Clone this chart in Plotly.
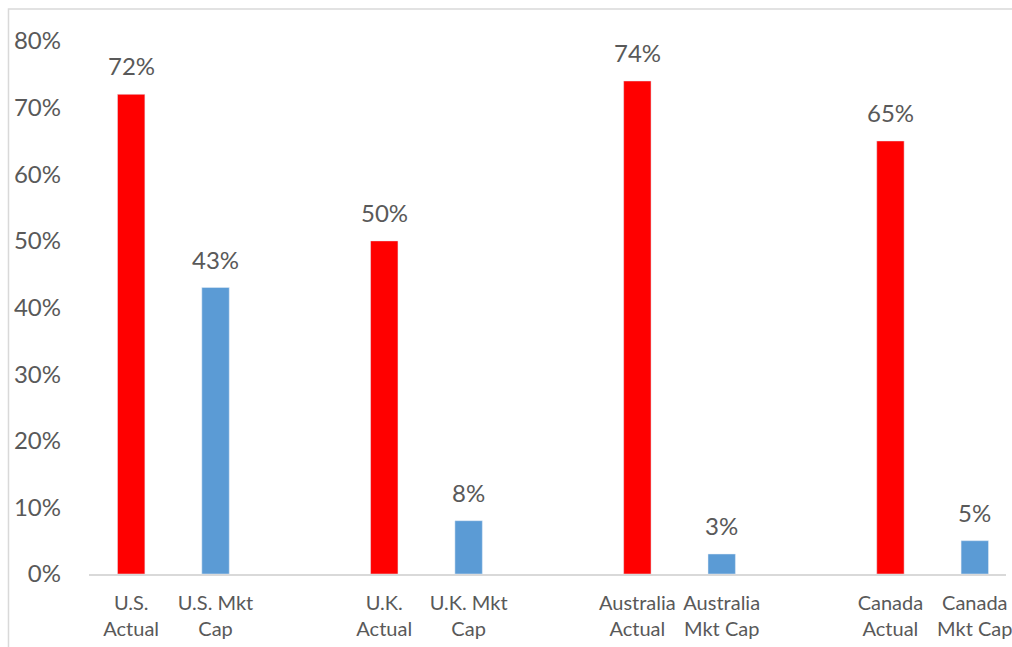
import plotly.graph_objects as go

countries = ["U.S.", "U.K.", "Australia", "Canada"]
actual = [72, 50, 74, 65]
mkt_cap = [43, 8, 3, 5]
actual_labels = ["U.S.<br>Actual", "U.K.<br>Actual", "Australia<br>Actual", "Canada<br>Actual"]
mkt_labels = ["U.S. Mkt<br>Cap", "U.K. Mkt<br>Cap", "Australia<br>Mkt Cap", "Canada<br>Mkt Cap"]

RED = "#FF0000"
BLUE = "#5B9BD5"
TXT = "#595959"
FONT = "Lato"

x_act = [3 * i for i in range(len(countries))]
x_mkt = [3 * i + 1 for i in range(len(countries))]

fig = go.Figure()
fig.add_trace(go.Bar(x=x_act, y=actual, marker_color=RED, width=0.325, name="Actual"))
fig.add_trace(go.Bar(x=x_mkt, y=mkt_cap, marker_color=BLUE, width=0.325, name="Mkt Cap"))

for xs, vals in ((x_act, actual), (x_mkt, mkt_cap)):
    for x, v in zip(xs, vals):
        fig.add_annotation(x=x, y=v, text=f"{v}%", showarrow=False, yanchor="bottom",
                           yshift=12, font=dict(family=FONT, size=24, color=TXT))

tickvals = []
ticktext = []
for a, m, la, lm in zip(x_act, x_mkt, actual_labels, mkt_labels):
    tickvals += [a, m]
    ticktext += [la, lm]

fig.add_shape(type="rect", xref="paper", yref="paper", x0=-0.0878, x1=1.2, y0=-0.2, y1=1.060,
              line=dict(color="#D9D9D9", width=1.5), fillcolor="rgba(0,0,0,0)", layer="below")

fig.update_layout(
    width=1012, height=647,
    margin=dict(l=89, r=0, t=41, b=73),
    paper_bgcolor="white", plot_bgcolor="white",
    showlegend=False,
    barmode="overlay",
    font=dict(family=FONT, color=TXT),
    xaxis=dict(range=[-0.5, 10.37], tickmode="array", tickvals=tickvals, ticktext=ticktext,
               showgrid=False, zeroline=False, showline=True, linecolor="#D9D9D9", linewidth=1.5,
               ticks="", tickfont=dict(family=FONT, size=20, color=TXT), ticklabelstandoff=10,
               ticklabeloverflow="allow"),
    yaxis=dict(range=[0, 80], dtick=10, ticksuffix="%", showgrid=False, zeroline=False,
               showline=False, ticks="", tickfont=dict(family=FONT, size=24, color=TXT),
               ticklabelstandoff=27),
)

fig.write_html("out.html", config={"displayModeBar": False},
               post_script="document.body.style.margin='0';document.body.style.overflow='hidden';")
